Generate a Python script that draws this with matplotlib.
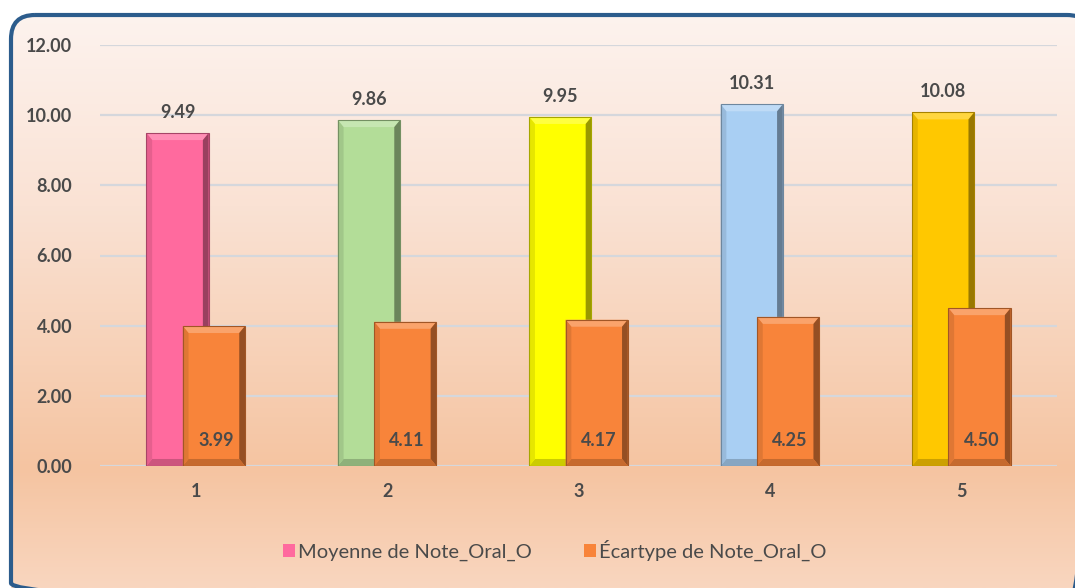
import numpy as np
import matplotlib.pyplot as plt
from matplotlib.patches import FancyBboxPatch, Polygon
from matplotlib.colors import LinearSegmentedColormap, to_rgb

categories = ['1', '2', '3', '4', '5']
moyenne = [9.49, 9.86, 9.95, 10.31, 10.08]
ecartype = [3.99, 4.11, 4.17, 4.25, 4.50]
moy_colors = ['#FF6A9E', '#B3DD98', '#FFFF00', '#A9CFF3', '#FFC800']
ect_color = '#F8843A'
label_moy = 'Moyenne de Note_Oral_O'
label_ect = 'Écartype de Note_Oral_O'

plt.rcParams['font.family'] = ['Lato', 'DejaVu Sans']
text_col = '#4A4A4A'

W, H = 1075, 588
fig = plt.figure(figsize=(W / 100, H / 100), dpi=100)
fig.patch.set_facecolor('white')

# rounded chart frame with vertical peach gradient
bg = fig.add_axes([0, 0, 1, 1])
bg.set_xlim(0, W)
bg.set_ylim(H, 0)
bg.axis('off')
grad = LinearSegmentedColormap.from_list(
    'peach', [(0.0, '#FDF4F0'), (0.35, '#FAE2D4'), (0.8, '#F5C4A1'), (1.0, '#F9D6BF')])
frame = FancyBboxPatch((11, 15), 1080, 592, boxstyle='round,pad=0,rounding_size=24',
                       fc='none', ec='#2C5C8C', lw=3, zorder=3)
bg.add_patch(frame)
img = bg.imshow(np.linspace(0, 1, 256).reshape(-1, 1), cmap=grad, aspect='auto',
                extent=(0, W, H, 0), zorder=1)
img.set_clip_path(frame)

ax = fig.add_axes([100 / W, 1 - 466 / H, 957 / W, 421 / H])
ax.set_facecolor('none')
ax.set_xlim(0.5, 5.5)
ax.set_ylim(0, 12)
for s in ax.spines.values():
    s.set_visible(False)
ax.set_yticks(np.arange(0, 13, 2))
ax.set_yticklabels([f'{v:.2f}' for v in np.arange(0, 13, 2)])
ax.yaxis.grid(True, color='#D5D7DC', lw=1.6)
ax.set_axisbelow(True)
x = np.arange(1, len(categories) + 1)
ax.set_xticks(x)
ax.set_xticklabels(categories)
ax.tick_params(length=0, labelsize=13, labelcolor=text_col, pad=12)
ax.tick_params(axis='y', pad=20)
for t in ax.get_xticklabels() + ax.get_yticklabels():
    t.set_fontweight('bold')


def shade(c, f):
    r = np.array(to_rgb(c))
    if f > 0:
        return tuple(r + (1 - r) * f)
    return tuple(r * (1 + f))


def bevel(bar, color):
    # soft bevel: light top, dark right side, shaded bottom and left
    x0, w, h = bar.get_x(), bar.get_width(), bar.get_height()
    dx, dy = 0.03, 0.2
    x1 = x0 + w
    z = bar.get_zorder() + 0.1
    ax.add_patch(Polygon([(x0, h), (x1, h), (x1 - dx, h - dy), (x0 + dx, h - dy)],
                         fc=shade(color, 0.25), ec='none', zorder=z))
    ax.add_patch(Polygon([(x1, h), (x1, 0), (x1 - dx, dy), (x1 - dx, h - dy)],
                         fc=shade(color, -0.4), ec='none', zorder=z))
    ax.add_patch(Polygon([(x0, 0), (x1, 0), (x1 - dx, dy), (x0 + dx, dy)],
                         fc=shade(color, -0.2), ec='none', zorder=z))
    ax.add_patch(Polygon([(x0, 0), (x0, h), (x0 + dx, h - dy), (x0 + dx, dy)],
                         fc=shade(color, -0.1), ec='none', zorder=z))
    ax.add_patch(Polygon([(x0, 0), (x0, h), (x1, h), (x1, 0)], fill=False,
                         ec=shade(color, -0.35), lw=0.8, zorder=z))


bw, off = 0.325, 0.095
bars1 = ax.bar(x - off, moyenne, bw, color=moy_colors, zorder=2, label=label_moy,
               edgecolor='none')
bars2 = ax.bar(x + off, ecartype, bw, color=ect_color, zorder=4, label=label_ect,
               edgecolor='none')
for b, c in zip(bars1, moy_colors):
    bevel(b, c)
for b in bars2:
    bevel(b, ect_color)

for xi, v in zip(x - off, moyenne):
    ax.text(xi, v + 0.35, f'{v:.2f}', ha='center', va='bottom', fontsize=13,
            fontweight='bold', color=text_col, zorder=6)
for xi, v in zip(x + off, ecartype):
    ax.text(xi + 0.01, 0.72, f'{v:.2f}', ha='center', va='center', fontsize=13,
            fontweight='bold', color=text_col, zorder=6)

leg = ax.legend(loc='center', bbox_to_anchor=(0.475, -0.2), ncol=2, frameon=False,
                fontsize=14.5, handlelength=0.6, handleheight=0.6, handletextpad=0.15,
                columnspacing=2.6, labelcolor=text_col)

fig.savefig('out.png', dpi=100)
